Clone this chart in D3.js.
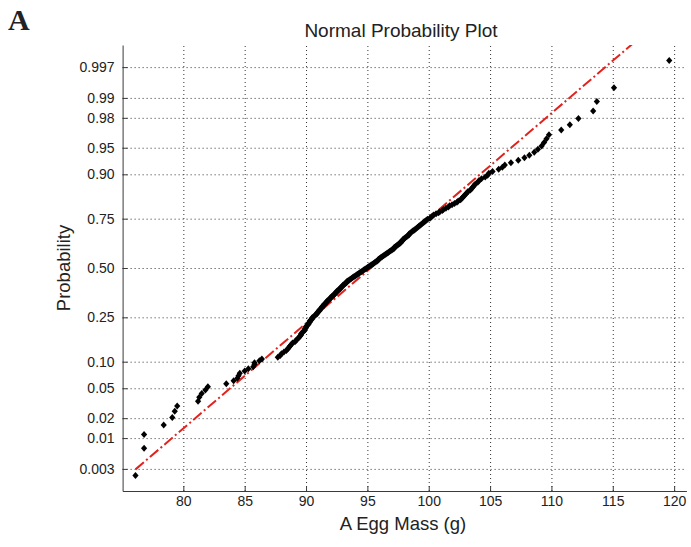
<!DOCTYPE html>
<html><head><meta charset="utf-8">
<script src="https://cdn.jsdelivr.net/npm/d3@7"></script>
<style>
body{margin:0;background:#fff}
svg{display:block}
text{font-family:"Liberation Sans",Arial,sans-serif;fill:#222}
</style>
</head><body>
<svg id="chart" width="691" height="547"></svg>
<script>
// ---- data (sorted egg masses, g) ----
const eggMass = [
76.1,76.8,76.8,78.4,79.1,79.3,79.5,81.2,81.3,81.5,
81.8,82.0,83.5,84.1,84.4,84.5,84.6,85.0,85.3,85.7,
85.8,85.8,86.2,86.4,87.7,87.9,88.0,88.2,88.4,88.5,
88.6,88.7,88.8,88.9,89.1,89.2,89.3,89.4,89.5,89.6,
89.6,89.7,89.8,89.9,89.9,90.0,90.0,90.1,90.2,90.2,
90.3,90.3,90.4,90.5,90.5,90.6,90.7,90.8,90.9,90.9,
91.0,91.1,91.1,91.2,91.3,91.3,91.4,91.5,91.5,91.6,
91.7,91.7,91.8,91.9,92.0,92.0,92.1,92.2,92.3,92.3,
92.4,92.5,92.5,92.6,92.7,92.8,92.8,92.9,93.0,93.0,
93.1,93.2,93.3,93.3,93.4,93.5,93.6,93.7,93.8,93.9,
94.0,94.1,94.2,94.3,94.4,94.5,94.6,94.7,94.8,94.9,
95.0,95.1,95.2,95.3,95.4,95.5,95.6,95.7,95.8,95.9,
95.9,96.0,96.1,96.2,96.3,96.4,96.5,96.6,96.7,96.8,
96.9,97.0,97.1,97.2,97.2,97.3,97.4,97.5,97.6,97.7,
97.7,97.8,97.9,97.9,98.0,98.1,98.2,98.3,98.4,98.4,
98.5,98.6,98.7,98.8,98.9,99.0,99.1,99.2,99.3,99.4,
99.5,99.6,99.7,99.8,99.9,100.1,100.2,100.3,100.4,100.6,
100.8,100.9,101.1,101.2,101.4,101.6,101.7,101.9,102.1,102.3,
102.4,102.6,102.7,102.8,102.9,103.0,103.1,103.2,103.4,103.5,
103.6,103.7,103.8,104.0,104.1,104.3,104.6,104.8,104.9,105.2,
105.7,106.0,106.2,106.7,107.3,107.8,108.2,108.6,108.9,109.2,
109.4,109.6,109.8,110.8,111.5,112.2,113.4,113.7,115.1,119.6
];
const probTicks = [0.003,0.01,0.02,0.05,0.10,0.25,0.50,0.75,0.90,0.95,0.98,0.99,0.997];
const probTickLabels = ["0.003","0.01","0.02","0.05","0.10","0.25","0.50","0.75","0.90","0.95","0.98","0.99","0.997"];
const massTicks = [80,85,90,95,100,105,110,115,120];
const refMean = 95.27;   // reference line
const refSd = 6.96;
const titleText = "Normal Probability Plot";
const xLabelText = "A Egg Mass (g)";
const yLabelText = "Probability";
const panelLabel = "A";

// inverse normal CDF (Acklam)
function probit(p){
  const a=[-3.969683028665376e+01,2.209460984245205e+02,-2.759285104469687e+02,1.383577518672690e+02,-3.066479806614716e+01,2.506628277459239e+00];
  const b=[-5.447609879822406e+01,1.615858368580409e+02,-1.556989798598866e+02,6.680131188771972e+01,-1.328068155288572e+01];
  const c=[-7.784894002430293e-03,-3.223964580411365e-01,-2.400758277161838e+00,-2.549732539343734e+00,4.374664141464968e+00,2.938163982698783e+00];
  const d=[7.784695709041462e-03,3.224671290700398e-01,2.445134137142996e+00,3.754408661907416e+00];
  const pl=0.02425, ph=1-pl;
  let q,r;
  if(p<pl){q=Math.sqrt(-2*Math.log(p));return (((((c[0]*q+c[1])*q+c[2])*q+c[3])*q+c[4])*q+c[5])/((((d[0]*q+d[1])*q+d[2])*q+d[3])*q+1);}
  if(p<=ph){q=p-0.5;r=q*q;return (((((a[0]*r+a[1])*r+a[2])*r+a[3])*r+a[4])*r+a[5])*q/(((((b[0]*r+b[1])*r+b[2])*r+b[3])*r+b[4])*r+1);}
  q=Math.sqrt(-2*Math.log(1-p));return -(((((c[0]*q+c[1])*q+c[2])*q+c[3])*q+c[4])*q+c[5])/((((d[0]*q+d[1])*q+d[2])*q+d[3])*q+1);
}

const svg = d3.select("#chart");
const L=122.6, R=686.4, T=45, B=491;
const x = d3.scaleLinear().domain([75.05,121.0]).range([L,R]);
const y = d3.scaleLinear().domain([-3.05,3.05]).range([B,T]);

svg.append("rect").attr("width",691).attr("height",547).attr("fill","#fff");

// grid
const gx = svg.append("g").attr("transform",`translate(0,${B})`)
  .call(d3.axisBottom(x).tickValues(massTicks).tickSize(-(B-T)).tickFormat(""));
const gy = svg.append("g").attr("transform",`translate(${L},0)`)
  .call(d3.axisLeft(y).tickValues(probTicks.map(probit)).tickSize(-(R-L)).tickFormat(""));
[gx,gy].forEach(g=>{
  g.select(".domain").remove();
  g.selectAll("line").attr("stroke","#333").attr("stroke-width",1).attr("stroke-dasharray","1,3");
});

// clip
svg.append("clipPath").attr("id","clip").append("rect")
  .attr("x",L).attr("y",T).attr("width",R-L).attr("height",B-T);

const n = eggMass.length;
const pts = eggMass.map((v,i)=>({v, z: probit((i+0.5)/n)}));

// reference line (dash-dot) from min to max of data
const xmin = d3.min(eggMass), xmax = d3.max(eggMass);
svg.append("line").attr("clip-path","url(#clip)")
  .attr("x1",x(xmin)).attr("y1",y((xmin-refMean)/refSd))
  .attr("x2",x(xmax)).attr("y2",y((xmax-refMean)/refSd))
  .attr("stroke","#e0231e").attr("stroke-width",2)
  .attr("stroke-dasharray","11,3,2,3");

// data markers
svg.append("g").selectAll("path").data(pts).join("path")
  .attr("transform",d=>`translate(${x(d.v)},${y(d.z)})`)
  .attr("d","M0,-3.5L3.1,0L0,3.5L-3.1,0Z")
  .attr("fill","#000");

// axes
const ax = svg.append("g").attr("transform",`translate(0,${B})`)
  .call(d3.axisBottom(x).tickValues(massTicks).tickSizeInner(-5).tickSizeOuter(0).tickPadding(5).tickFormat(d3.format("d")));
const ay = svg.append("g").attr("transform",`translate(${L},0)`)
  .call(d3.axisLeft(y).tickValues(probTicks.map(probit)).tickSizeInner(-5).tickSizeOuter(0).tickPadding(8)
    .tickFormat((d,i)=>probTickLabels[i]));
[ax,ay].forEach(g=>{
  g.select(".domain").attr("stroke","#3a3a3a");
  g.selectAll(".tick line").attr("stroke","#3a3a3a");
  g.selectAll("text").attr("font-size",14).attr("fill","#222").attr("font-family","Liberation Sans, Arial, sans-serif");
});

// labels
svg.append("text").attr("x",8).attr("y",30).text(panelLabel)
  .style("font-family","'Liberation Serif','Times New Roman',serif")
  .attr("font-weight","bold").attr("font-size",30).attr("fill","#000");
svg.append("text").attr("x",401).attr("y",37).attr("text-anchor","middle")
  .attr("font-size",19).text(titleText);
svg.append("text").attr("x",403).attr("y",530).attr("text-anchor","middle")
  .attr("font-size",18.5).text(xLabelText);
svg.append("text").attr("transform","translate(70,268) rotate(-90)").attr("text-anchor","middle")
  .attr("font-size",18.5).text(yLabelText);
</script>
</body></html>
